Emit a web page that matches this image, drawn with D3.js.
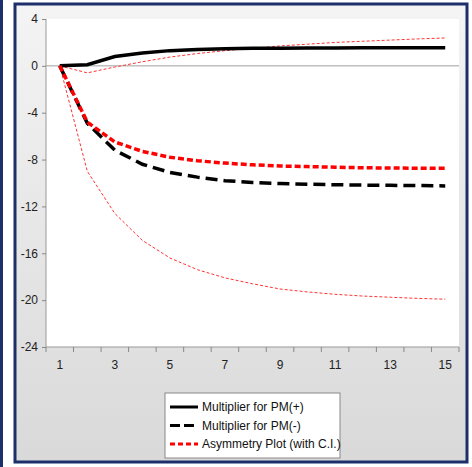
<!DOCTYPE html>
<html>
<head>
<meta charset="utf-8">
<script src="https://cdn.jsdelivr.net/npm/d3@7"></script>
<style>
  body { margin: 0; background: #fff; }
  svg { display: block; font-family: "Liberation Sans", Arial, sans-serif; }
</style>
</head>
<body>
<svg id="chart" width="472" height="467"></svg>
<script>
// periodos do horizonte
const periodos = d3.range(1, 16);
// multiplicador PM(+)
const multPos = [0, 0.1, 0.8, 1.1, 1.3, 1.4, 1.45, 1.5, 1.5, 1.52, 1.53, 1.54, 1.55, 1.55, 1.55];
// multiplicador PM(-)
const multNeg = [0, -4.9, -7.2, -8.4, -9.1, -9.5, -9.8, -9.95, -10.05, -10.1, -10.15, -10.18, -10.2, -10.22, -10.25];
// diferenca (assimetria)
const assim = [0, -4.8, -6.5, -7.3, -7.8, -8.1, -8.3, -8.45, -8.55, -8.6, -8.65, -8.7, -8.72, -8.74, -8.75];
// intervalo de confianca
const icSup = [0, -0.6, -0.1, 0.35, 0.75, 1.05, 1.3, 1.5, 1.7, 1.85, 2.0, 2.1, 2.2, 2.3, 2.38];
const icInf = [0, -9.0, -12.6, -14.9, -16.4, -17.4, -18.1, -18.6, -19.05, -19.3, -19.5, -19.65, -19.75, -19.85, -19.92];

const yTicks = [4, 0, -4, -8, -12, -16, -20, -24];
const xLabels = [1, 3, 5, 7, 9, 11, 13, 15];
const legendas = ['Multiplier for PM(+)', 'Multiplier for PM(-)', 'Asymmetry Plot (with C.I.)'];

const svg = d3.select('#chart');

// Fundo com gradiente
const defs = svg.append('defs');
const grad = defs.append('linearGradient').attr('id', 'bg').attr('x1', 0).attr('y1', 0).attr('x2', 0).attr('y2', 1);
grad.append('stop').attr('offset', '0%').attr('stop-color', '#f4f4f4');
grad.append('stop').attr('offset', '100%').attr('stop-color', '#d9d9d9');

// barra do painel vizinho
svg.append('rect').attr('x', 0).attr('y', 0).attr('width', 3).attr('height', 467).attr('fill', '#1c2f6b');

svg.append('rect')
    .attr('x', 15).attr('y', 4).attr('width', 452).attr('height', 458)
    .attr('fill', 'url(#bg)')
    .attr('stroke', '#1c2f6b').attr('stroke-width', 3);

const plot = { left: 46, right: 459, top: 19, bottom: 347 };

svg.append('rect')
    .attr('x', plot.left).attr('y', plot.top)
    .attr('width', plot.right - plot.left).attr('height', plot.bottom - plot.top)
    .attr('fill', '#fff');

const x = d3.scaleLinear().domain([0.5, 15.5]).range([plot.left, plot.right]);
const y = d3.scaleLinear().domain([-24, 4]).range([plot.bottom, plot.top]);

// Eixo Y (hifen simples no lugar do sinal de menos unicode)
const eixoY = svg.append('g')
    .attr('transform', `translate(${plot.left},0)`)
    .call(d3.axisLeft(y).tickValues(yTicks).tickSize(4).tickPadding(4).tickFormat(d => String(d)));
eixoY.select('.domain').attr('stroke', '#999').attr('d', `M0,${plot.top}V${plot.bottom}`);
eixoY.selectAll('.tick line').attr('stroke', '#888');
eixoY.selectAll('text').attr('font-size', 12).attr('fill', '#222').attr('font-family', '"Liberation Sans", Arial, sans-serif');

// Eixo X: marcas nas fronteiras, rotulos nos centros
const eixoX = svg.append('g').attr('transform', `translate(0,${plot.bottom})`);
eixoX.append('line')
    .attr('x1', plot.left).attr('x2', plot.right)
    .attr('stroke', '#999');
eixoX.selectAll('line.tk')
    .data(d3.range(0.5, 16, 1))
    .enter().append('line')
    .attr('class', 'tk')
    .attr('x1', d => x(d)).attr('x2', d => x(d))
    .attr('y1', 0).attr('y2', 5)
    .attr('stroke', '#888');
eixoX.selectAll('text')
    .data(xLabels)
    .enter().append('text')
    .attr('x', d => x(d))
    .attr('y', 22)
    .attr('text-anchor', 'middle')
    .attr('font-size', 12)
    .attr('fill', '#222')
    .text(d => d);

// linha zero
svg.append('line')
    .attr('x1', plot.left).attr('x2', plot.right)
    .attr('y1', y(0)).attr('y2', y(0))
    .attr('stroke', '#a0a0a0').attr('stroke-width', 1);

const linha = d3.line().x((d, i) => x(periodos[i])).y(d => y(d));

const series = [
    { dados: icSup, cor: '#ff3333', larg: 1, dash: '3,2' },
    { dados: icInf, cor: '#ff3333', larg: 1, dash: '3,2' },
    { dados: multPos, cor: '#000', larg: 3.5, dash: null },
    { dados: multNeg, cor: '#000', larg: 3.5, dash: '12,6' },
    { dados: assim, cor: '#ff0000', larg: 3.5, dash: '6,3' }
];

series.forEach(s => {
    svg.append('path')
        .datum(s.dados)
        .attr('fill', 'none')
        .attr('stroke', s.cor)
        .attr('stroke-width', s.larg)
        .attr('stroke-dasharray', s.dash)
        .attr('d', linha);
});

// Legenda
const leg = svg.append('g').attr('transform', 'translate(165,393)');
leg.append('rect')
    .attr('width', 175).attr('height', 65)
    .attr('fill', '#fff').attr('stroke', '#888');
const estilos = [
    { cor: '#000', dash: null },
    { cor: '#000', dash: '10,4' },
    { cor: '#ff0000', dash: '5,3' }
];
legendas.forEach((t, i) => {
    const yy = 14 + i * 18.5;
    leg.append('line')
        .attr('x1', 5).attr('x2', 33)
        .attr('y1', yy).attr('y2', yy)
        .attr('stroke', estilos[i].cor)
        .attr('stroke-width', 3)
        .attr('stroke-dasharray', estilos[i].dash);
    leg.append('text')
        .attr('x', 37).attr('y', yy + 4)
        .attr('font-size', 12)
        .attr('fill', '#111')
        .text(t);
});
</script>
</body>
</html>
